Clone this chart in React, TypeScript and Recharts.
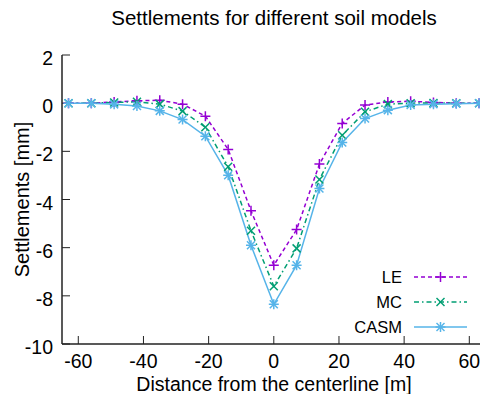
import React from 'react';
import { LineChart, Line, XAxis, YAxis } from 'recharts';

const distances = [-63, -56, -49, -42, -35, -28, -21, -14, -7, 0, 7, 14, 21, 28, 35, 42, 49, 56, 63];
const leValues = [0, 0, 0.05, 0.1, 0.12, -0.04, -0.54, -1.92, -4.47, -6.73, -5.25, -2.53, -0.84, -0.08, 0.05, 0.08, 0.03, 0, 0];
const mcValues = [0, 0, 0.03, 0.06, -0.04, -0.33, -1.0, -2.64, -5.3, -7.6, -6.03, -3.17, -1.33, -0.36, -0.04, 0.0, 0.01, 0, 0];
const casmValues = [0, 0, -0.05, -0.12, -0.32, -0.68, -1.37, -2.99, -5.9, -8.35, -6.73, -3.54, -1.63, -0.64, -0.29, -0.08, -0.04, -0.02, 0];
const xTicks = [-60, -40, -20, 0, 20, 40, 60];
const yTicks = [-10, -8, -6, -4, -2, 0, 2];
const seriesNames = ['LE', 'MC', 'CASM'];
const titleText = 'Settlements for different soil models';
const xLabel = 'Distance from the centerline [m]';
const yLabel = 'Settlements [mm]';

const data = distances.map((x, i) => ({ x, le: leValues[i], mc: mcValues[i], casm: casmValues[i] }));

const FONT = '"Liberation Sans", Arial, Helvetica, sans-serif';
const LE_COLOR = '#9400d3';
const MC_COLOR = '#009e73';
const CASM_COLOR = '#56b4e9';
const AXIS = '#222';

const plusMark = (cx: number, cy: number, c: string, k?: any) => (
  <g key={k}>
    <line x1={cx - 5} y1={cy} x2={cx + 5} y2={cy} stroke={c} strokeWidth={1.5} />
    <line x1={cx} y1={cy - 5} x2={cx} y2={cy + 5} stroke={c} strokeWidth={1.5} />
  </g>
);
const crossMark = (cx: number, cy: number, c: string, k?: any) => (
  <g key={k}>
    <line x1={cx - 4} y1={cy - 4} x2={cx + 4} y2={cy + 4} stroke={c} strokeWidth={1.5} />
    <line x1={cx - 4} y1={cy + 4} x2={cx + 4} y2={cy - 4} stroke={c} strokeWidth={1.5} />
  </g>
);
const starMark = (cx: number, cy: number, c: string, k?: any) => (
  <g key={k}>
    {plusMark(cx, cy, c)}
    {crossMark(cx, cy, c)}
  </g>
);

const LeDot = (p: any) => (p.cx == null ? <g key={p.index} /> : plusMark(p.cx, p.cy, LE_COLOR, p.index));
const McDot = (p: any) => (p.cx == null ? <g key={p.index} /> : crossMark(p.cx, p.cy, MC_COLOR, p.index));
const CasmDot = (p: any) => (p.cx == null ? <g key={p.index} /> : starMark(p.cx, p.cy, CASM_COLOR, p.index));

const XTick = (p: any) => (
  <text x={p.x} y={p.y + 32} textAnchor="middle" fontFamily={FONT} fontSize={19.5} fill="#000">
    {p.payload.value}
  </text>
);
const YTick = (p: any) => (
  <text x={p.x - 17} y={p.y + 10} textAnchor="end" fontFamily={FONT} fontSize={19.5} fill="#000">
    {p.payload.value}
  </text>
);
const EmptyTick = () => <g />;

const legendRows = [
  { name: seriesNames[0], color: LE_COLOR, dash: '4 3', mark: plusMark },
  { name: seriesNames[1], color: MC_COLOR, dash: '5 3 1.5 3', mark: crossMark },
  { name: seriesNames[2], color: CASM_COLOR, dash: undefined, mark: starMark },
];

export default function App() {
  return (
    <div style={{ position: 'absolute', left: 0, top: 0, width: 480, height: 394, overflow: 'hidden', background: '#fff' }}>
      <LineChart width={490} height={394} data={data} margin={{ top: 55, right: 4.4, bottom: 0, left: 0 }}>
        <XAxis
          dataKey="x"
          type="number"
          domain={[-65, 65]}
          ticks={xTicks}
          allowDataOverflow
          height={50}
          tickSize={-8}
          tickMargin={0}
          tick={<XTick />}
          axisLine={{ stroke: AXIS, strokeWidth: 1.5 }}
          tickLine={{ stroke: AXIS, strokeWidth: 1 }}
        />
        <XAxis
          xAxisId="top"
          dataKey="x"
          type="number"
          orientation="top"
          domain={[-65, 65]}
          ticks={xTicks}
          allowDataOverflow
          height={0}
          tickSize={-8}
          tick={<EmptyTick />}
          axisLine={{ stroke: AXIS, strokeWidth: 1.5 }}
          tickLine={{ stroke: AXIS, strokeWidth: 1 }}
        />
        <YAxis
          type="number"
          domain={[-10, 2]}
          ticks={yTicks}
          allowDataOverflow
          width={62}
          tickSize={-8}
          tickMargin={0}
          tick={<YTick />}
          axisLine={{ stroke: AXIS, strokeWidth: 1.5 }}
          tickLine={{ stroke: AXIS, strokeWidth: 1 }}
        />
        <YAxis
          yAxisId="right"
          orientation="right"
          type="number"
          domain={[-10, 2]}
          ticks={yTicks}
          allowDataOverflow
          width={0}
          tickSize={-8}
          tick={<EmptyTick />}
          axisLine={{ stroke: AXIS, strokeWidth: 1.5 }}
          tickLine={{ stroke: AXIS, strokeWidth: 1 }}
        />
        <Line dataKey="le" type="linear" stroke={LE_COLOR} strokeWidth={1.5} strokeDasharray="4 3" dot={LeDot} isAnimationActive={false} />
        <Line dataKey="mc" type="linear" stroke={MC_COLOR} strokeWidth={1.5} strokeDasharray="5 3 1.5 3" dot={McDot} isAnimationActive={false} />
        <Line dataKey="casm" type="linear" stroke={CASM_COLOR} strokeWidth={1.5} dot={CasmDot} isAnimationActive={false} />
      </LineChart>
      <svg width={480} height={394} style={{ position: 'absolute', left: 0, top: 0, pointerEvents: 'none' }}>
        <text x={274} y={25} textAnchor="middle" fontFamily={FONT} fontSize={20.5} fill="#000">{titleText}</text>
        <text x={274} y={391} textAnchor="middle" fontFamily={FONT} fontSize={19.5} fill="#000">{xLabel}</text>
        <text x={28.5} y={199.5} textAnchor="middle" fontFamily={FONT} fontSize={20} fill="#000" transform="rotate(-90 28.5 199.5)">{yLabel}</text>
        {legendRows.map((r, i) => {
          const cy = 277 + i * 25;
          return (
            <g key={r.name}>
              <text x={402} y={cy + 6} textAnchor="end" fontFamily={FONT} fontSize={16.5} fill="#000">{r.name}</text>
              <line x1={414} y1={cy} x2={467} y2={cy} stroke={r.color} strokeWidth={1.5} strokeDasharray={r.dash} />
              {r.mark(440.5, cy, r.color)}
            </g>
          );
        })}
      </svg>
    </div>
  );
}
